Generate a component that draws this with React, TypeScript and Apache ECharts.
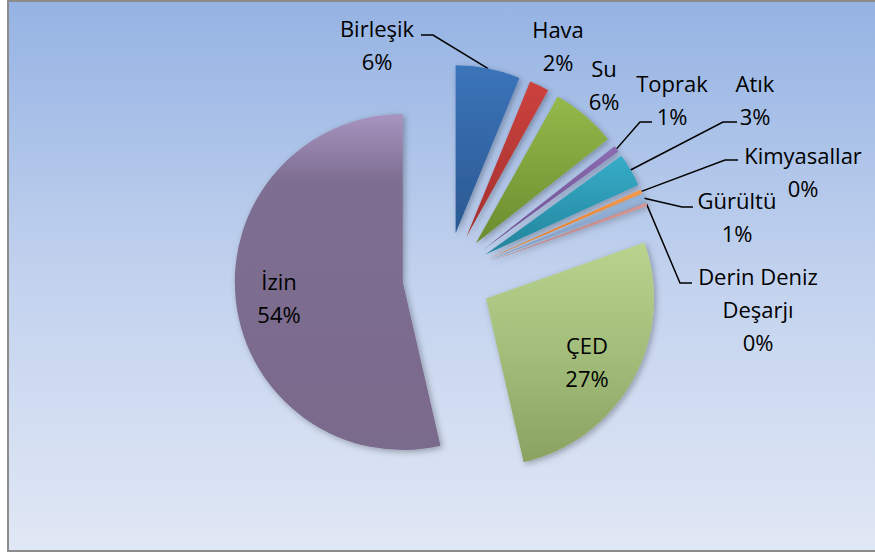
import React, { useEffect, useRef } from "react";
import * as echarts from "echarts";

// ---- data ----
const categories = [
  "Birleşik",
  "Hava",
  "Su",
  "Toprak",
  "Atık",
  "Kimyasallar",
  "Gürültü",
  "Derin Deniz Deşarjı",
  "ÇED",
  "İzin",
];
const shares = [6.2, 1.9, 6.3, 0.6, 3.2, 0.4, 0.7, 0.3, 26.8, 53.6];

// ---- layout / style ----
const CX = 447;
const CY = 277;
const R = 168;
const EXPLODE = 44.5;
const FONT = "'Open Sans', 'Noto Sans', sans-serif";

type Place = { x: number; y: number; inside?: boolean; line?: [number, number, number, number] };
const placements: Place[] = [
  { x: 377, y: 44, line: [433, 35, 421, 35] },
  { x: 558, y: 45 },
  { x: 604, y: 84 },
  { x: 672, y: 99, line: [640, 122, 652, 122] },
  { x: 755, y: 99, line: [723, 122, 737, 122] },
  { x: 803, y: 171, line: [725, 160, 738, 160] },
  { x: 737, y: 216, line: [682, 207, 693, 207] },
  { x: 758, y: 309, line: [680, 283, 692, 283] },
  { x: 587, y: 361, inside: true },
  { x: 279, y: 297, inside: true },
];

const grad = (stops: [number, string][]) =>
  new echarts.graphic.LinearGradient(
    0,
    0,
    0,
    1,
    stops.map(([offset, color]) => ({ offset, color }))
  );

const sliceColors = [
  grad([[0, "#3b74ba"], [1, "#2a5891"]]),
  grad([[0, "#cc423e"], [1, "#a3302d"]]),
  grad([[0, "#95b94b"], [1, "#6b8c2e"]]),
  grad([[0, "#8a6bb0"], [1, "#6b4f8d"]]),
  grad([[0, "#36acc8"], [1, "#23849c"]]),
  grad([[0, "#f89a4b"], [1, "#e07a25"]]),
  grad([[0, "#97b4d9"], [1, "#7f9dc6"]]),
  grad([[0, "#d99694"], [1, "#c07a78"]]),
  grad([[0, "#b9d48f"], [0.5, "#a3bd7a"], [1, "#8aa262"]]),
  grad([[0, "#a894c0"], [0.2, "#7e6e91"], [1, "#7a6a8c"]]),
];

const total = shares.reduce((a, b) => a + b, 0);
const midAngle = (i: number) => {
  let cum = 0;
  for (let k = 0; k < i; k++) cum += shares[k];
  return ((cum + shares[i] / 2) / total) * Math.PI * 2;
};

export default function App() {
  const ref = useRef<HTMLDivElement>(null);
  useEffect(() => {
    if (!ref.current) return;
    const chart = echarts.init(ref.current, undefined, { renderer: "svg" });

    // one pie per slice, each shifted outward along its slice's mid angle (exploded pie)
    const series = categories.map((_, s) => {
      const m = midAngle(s);
      const dx = Math.sin(m);
      const dy = -Math.cos(m);
      const cx = CX + EXPLODE * dx;
      const cy = CY + EXPLODE * dy;
      const place = placements[s];
      return {
        type: "pie",
        silent: true,
        center: [cx, cy],
        radius: R,
        startAngle: 90,
        clockwise: true,
        avoidLabelOverlap: false,
        emphasis: { disabled: true },
        label: {
          show: false,
          color: "#000",
          fontFamily: FONT,
          fontSize: 22,
          lineHeight: 33,
          align: "center",
          formatter: (p: any) =>
            p.name.replace("Deniz ", "Deniz\n") + "\n" + Math.round(p.value) + "%",
        },
        labelLine: {
          show: false,
          length: 10,
          length2: 10,
          lineStyle: { color: "#000", width: 1.5 },
        },
        labelLayout: (params: any) => {
          if (params.dataIndex !== s) return {};
          const out: any = {
            x: place.x,
            y: place.y,
            align: "center",
            verticalAlign: "middle",
          };
          if (place.line) {
            out.labelLinePoints = [
              [cx + R * dx, cy + R * dy],
              [place.line[0], place.line[1]],
              [place.line[2], place.line[3]],
            ];
          }
          return out;
        },
        data: categories.map((name, i) => {
          const own = i === s;
          return {
            name,
            value: shares[i],
            itemStyle: own
              ? {
                  color: sliceColors[i],
                  shadowBlur: 6,
                  shadowColor: "rgba(0,0,0,0.3)",
                  shadowOffsetX: 2,
                  shadowOffsetY: 2,
                }
              : { color: "rgba(0,0,0,0)", borderWidth: 0 },
            label: {
              show: own,
              position: placements[i].inside ? "inside" : "outside",
            },
            labelLine: { show: own && !!placements[i].line },
          };
        }),
      };
    });

    chart.setOption({
      animation: false,
      graphic: [
        {
          type: "rect",
          z: -10,
          silent: true,
          shape: { x: 8, y: 1, width: 890, height: 550 },
          style: {
            fill: new echarts.graphic.LinearGradient(0, 0, 0, 1, [
              { offset: 0, color: "#95b3e3" },
              { offset: 0.5, color: "#c2d2ee" },
              { offset: 1, color: "#e1e8f5" },
            ]),
            stroke: "#8c8c8c",
            lineWidth: 2,
          },
        },
      ],
      series,
    });
    return () => chart.dispose();
  }, []);

  return (
    <div
      ref={ref}
      style={{ position: "absolute", left: 0, top: 0, width: 875, height: 553 }}
    />
  );
}
